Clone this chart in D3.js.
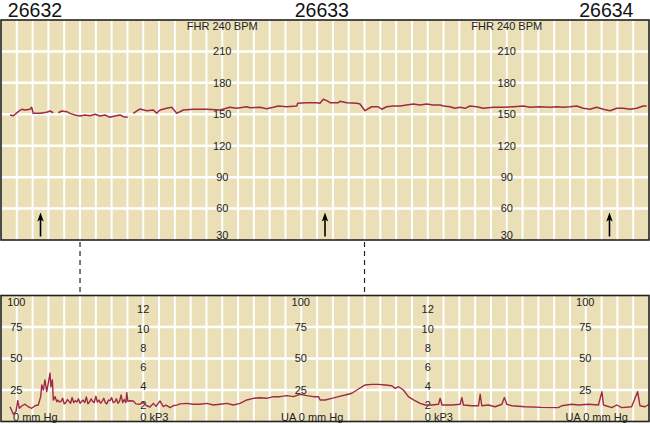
<!DOCTYPE html>
<html><head><meta charset="utf-8">
<script src="https://cdn.jsdelivr.net/npm/d3@7"></script>
<style>
html,body{margin:0;padding:0;background:#fff;}
svg{display:block;font-family:"Liberation Sans",Arial,Helvetica,sans-serif;}
</style></head>
<body>
<svg id="chart" width="650" height="424"></svg>
<script>
// ---- data ----
const pageNumbers = ["26632", "26633", "26634"];
const pageTimes = [21.5, 203, 383];          // seconds
const arrowTimes = [25, 205, 385];           // event marks (s)
const dashedTimes = [50, 230];               // connector lines (s)
const fhrTicks = [60, 90, 120, 150, 180, 210];
const fhrLabelTimes = [140, 320];
const uaTicks = [25, 50, 75];
const uaLabelTimes = [10, 190, 370];
const kpaTicks = [2, 4, 6, 8, 10, 12];
const kpaLabelTimes = [90, 270];

// FHR trace (time s, bpm), three segments separated by signal loss
const fhrSegment1 = [[5.7,149.3],[7.8,148.6],[10.9,152.5],[13.1,154.8],[15.2,154.1],[18.3,154.8],[19.4,156.7],[20.4,150.9],[24.7,150.9],[28.9,151.9],[31,153.1],[33.1,151.5]];
const fhrSegment2 = [[36.3,151.5],[38.4,153.1],[41.6,152.5],[43.7,150.9],[46.8,149.3],[50,148.4],[53.1,149.3],[56.3,148.6],[59.5,150],[62.6,148.4],[65.8,149.3],[69,147.1],[72.1,148.4],[75.3,149.3],[77.4,147.7],[80.2,147.1]];
const fhrSegment3 = [[83.7,150.9],[86.9,154.1],[87.9,155],[92.2,153.4],[96.4,154.1],[98.5,150.9],[100.6,154.1],[104.8,155.7],[108,156.7],[111.2,150.9],[115.3,154.1],[121.7,154.8],[130.1,154.8],[138.6,154.1],[144.9,156.7],[149.1,155.7],[155.5,157.2],[157.5,156.3],[163.9,156.7],[168.1,155.3],[172.3,156.7],[175.5,157.9],[180.8,157.2],[187.1,157.9],[187.7,160.5],[193.4,161.1],[199.7,161.1],[201.8,160.5],[203.9,164.3],[206.1,163],[208.2,161.1],[213.4,161.1],[214.5,162.4],[218.8,161.1],[225.1,160.5],[227.1,159.8],[230.3,153.4],[234.5,157.2],[238.7,157.2],[240.9,154.8],[244,157.2],[248.2,157.9],[252.4,157.9],[256.7,158.9],[260.9,159.8],[265.1,158.9],[269.3,159.8],[273.5,158.9],[277.8,158.9],[280,157.9],[284.1,157.2],[287.2,155.7],[290.4,156.7],[293.6,155.7],[296.7,157.9],[301,157.2],[305.1,155.7],[311.5,156.7],[317.8,156.7],[324.1,157.2],[330.5,157.9],[334.7,156.7],[341,157.2],[347.4,156.7],[351.6,157.2],[355.8,156.7],[360,157.2],[364.2,157.9],[368.4,155.7],[372.7,154.8],[376.9,156.7],[381.1,154.8],[385.3,153.4],[389.6,155.7],[393.8,155.7],[398,154.8],[402.2,155.7],[406.4,157.9],[408.5,157.9]];

// Uterine activity trace (time s, mm Hg)
const uaTrace = [[5.7,11.7],[7.8,5.7],[9.5,8],[10.6,16.5],[11.6,10.5],[13.1,12.3],[15.2,13.7],[17.3,11.7],[18.4,11],[19.4,10.5],[21.5,12.5],[23.6,13.1],[25.1,19.7],[25.8,29],[26.8,25],[27.8,33],[28.9,23.7],[29.9,30.3],[31,38.3],[31.6,27.6],[32.5,33],[33.1,17],[34.2,19.7],[35.3,15.7],
[36,17],[37,15.5],[38,16],[39,18.5],[40,14],[41,15],[42,17.5],[43,16],[44,14.5],[45,19],[46,15],[47,16.5],[48,15.5],[49,18],[50,14.5],[51,16],[52,17],[53,15],[54,19.5],[55,14],[56,15.5],[57,18],[58,16],[59,15],[60,20],[61,15.5],[62,17],[63,14.5],[64,16],[65,18.5],[66,15],[67,14],[68,17],[69,16.5],[70,19],[71,15],[72,15.5],[73,18],[74,14.5],[75,16],[76,21],[77,15],[78,17.5],[79,15],[79.6,23],[80.3,16],
[81.6,16.5],[83.7,16.3],[85.4,14],[88,13.7],[89.9,15],[92.2,12.5],[94.3,11.5],[96.4,14.4],[98.1,12],[100.6,16.3],[102.7,11.8],[104.4,13],[107,11],[108.9,12.5],[111.2,13],[113.3,14],[117.5,14.4],[121.5,13.7],[126,13.7],[130.2,14.4],[134.4,13.1],[138.6,13.7],[142.8,14.4],[147,13.1],[151.3,14.4],[155.5,17.1],[159.7,18.4],[163.9,18.9],[168.2,18.4],[172.4,19.7],[176.6,19.7],[180.8,20.5],[185,19.7],[189.3,21.6],[193.5,20.5],[197.7,19.7],[200.9,19.7],[201.9,17.1],[205.1,17.1],[209.3,18.4],[213.5,19.7],[217.8,21],[222,22.4],[226.2,25.8],[230.4,29],[234.6,29.5],[238.8,29.5],[243.1,29],[247.3,28.4],[249.4,26.3],[251.5,27.6],[254.6,25],[257.8,19.7],[261,17.1],[265.2,14.4],[268.4,13.1],[272.6,13.1],[276.8,13.7],[277.9,18.4],[279,13.1],[285.3,13.1],[290.5,13.7],[291.6,19],[292.6,13.1],[297.9,12.5],[302.1,12.5],[303.2,21.6],[304.2,12.5],[308.4,13.1],[312.6,11.7],[316.9,13.7],[318.5,19],[320,13.7],[323.2,12.5],[331.6,11.7],[342.1,11.2],[352.7,11],[354.8,12.5],[361.1,13.7],[365.3,13.1],[371.7,13.7],[378,13.1],[380.2,23.7],[381.2,13.1],[386.5,11],[389.6,13.1],[392.7,11],[399,11.7],[402.8,23.7],[404.3,12.5],[407.5,11.7],[410,13.7]];

// ---- drawing ----
const svg = d3.select("#chart");
const BG = "#eadfb6", GRID = "#ffffff", TRACE = "#9e2a46", INK = "#222";
const x = d3.scaleLinear().domain([0, 410]).range([1, 649]);
const yF = d3.scaleLinear().domain([30, 240]).range([240, 20]);
const yU = d3.scaleLinear().domain([0, 100]).range([421.5, 295.5]);
const yK = d3.scaleLinear().domain([0, 12]).range([424.5, 309.5]);
const gridTimes = d3.range(10, 410, 10);

function panel(y, ticks, top, bottom) {
  const g = svg.append("g");
  g.append("rect").attr("x", x(0)).attr("y", top).attr("width", x(410) - x(0)).attr("height", bottom - top).attr("fill", BG);
  g.selectAll(".v").data(gridTimes).join("line")
    .attr("x1", d => x(d)).attr("x2", d => x(d)).attr("y1", top).attr("y2", bottom)
    .attr("stroke", GRID).attr("stroke-width", 2);
  g.selectAll(".h").data(ticks).join("line")
    .attr("x1", x(0)).attr("x2", x(410)).attr("y1", d => y(d)).attr("y2", d => y(d))
    .attr("stroke", GRID).attr("stroke-width", 2.5);
  return g;
}

panel(yF, fhrTicks, yF(240), yF(30));
panel(yU, uaTicks, yU(100), yU(0));

// FHR labels
fhrLabelTimes.forEach(t => {
  const g = svg.append("g").attr("font-size", 11).attr("fill", INK).attr("text-anchor", "middle");
  g.append("text").attr("x", x(t)).attr("y", yF(240) + 6.3).attr("dy", "0.35em").text("FHR 240 BPM");
  g.selectAll(".t").data(fhrTicks).join("text")
    .attr("x", x(t)).attr("y", d => yF(d)).attr("dy", "0.35em").text(d => d);
  g.append("text").attr("x", x(t)).attr("y", yF(30) - 4.7).attr("dy", "0.35em").text("30");
});

// FHR trace
const line = d3.line().x(d => x(d[0]));
[fhrSegment1, fhrSegment2, fhrSegment3].forEach(seg => {
  svg.append("path").attr("d", line.y(d => yF(d[1]))(seg))
    .attr("fill", "none").attr("stroke", TRACE).attr("stroke-width", 1.5).attr("stroke-linejoin", "round");
});

// arrows
arrowTimes.forEach(t => {
  const cx = x(t);
  svg.append("line").attr("x1", cx).attr("x2", cx).attr("y1", 236.5).attr("y2", 219)
    .attr("stroke", "#000").attr("stroke-width", 1.6);
  svg.append("path").attr("d", `M${cx},212.5 L${cx - 3.2},221.5 L${cx},219.5 L${cx + 3.2},221.5 Z`).attr("fill", "#000");
});

// UA labels
uaLabelTimes.forEach((t, i) => {
  const g = svg.append("g").attr("font-size", 11).attr("fill", INK).attr("text-anchor", "middle");
  g.append("text").attr("x", x(t) - 0.5).attr("y", yU(100) + 6.5).attr("dy", "0.35em").text("100");
  g.selectAll(".t").data(uaTicks).join("text")
    .attr("x", x(t) - 0.5).attr("y", d => yU(d)).attr("dy", "0.35em").text(d => d);
  const lab = i === 0 ? "0 mm Hg" : "UA 0 mm Hg";
  const off = i === 0 ? -3.8 : -20.3;
  g.append("text").attr("text-anchor", "start").attr("x", x(t) + off).attr("y", yU(0) - 4.3).attr("dy", "0.35em").text(lab);
});
kpaLabelTimes.forEach(t => {
  const g = svg.append("g").attr("font-size", 11).attr("fill", INK).attr("text-anchor", "middle");
  g.selectAll(".t").data(kpaTicks).join("text")
    .attr("x", x(t)).attr("y", d => yK(d)).attr("dy", "0.35em").text(d => d);
  g.append("text").attr("text-anchor", "start").attr("x", x(t) - 3).attr("y", yU(0) - 4.3).attr("dy", "0.35em").text("0 kP3");
});

// UA trace
svg.append("path").attr("d", line.y(d => yU(d[1]))(uaTrace))
  .attr("fill", "none").attr("stroke", TRACE).attr("stroke-width", 1.4).attr("stroke-linejoin", "round");

// borders
[[yF(240), yF(30)], [yU(100), yU(0)]].forEach(([a, b]) => {
  svg.append("rect").attr("x", x(0)).attr("y", a).attr("width", x(410) - x(0)).attr("height", b - a)
    .attr("fill", "none").attr("stroke", INK).attr("stroke-width", 1.6);
});

// dashed connectors
dashedTimes.forEach(t => {
  svg.append("line").attr("x1", x(t)).attr("x2", x(t)).attr("y1", yF(30) + 2).attr("y2", yU(100) - 1)
    .attr("stroke", "#222").attr("stroke-width", 1.2).attr("stroke-dasharray", "5,4");
});

// page numbers
svg.selectAll(".pn").data(pageNumbers).join("text")
  .attr("x", (d, i) => x(pageTimes[i])).attr("y", 17).attr("text-anchor", "middle")
  .attr("font-size", 19.5).attr("fill", "#111").text(d => d);
</script>
</body></html>
